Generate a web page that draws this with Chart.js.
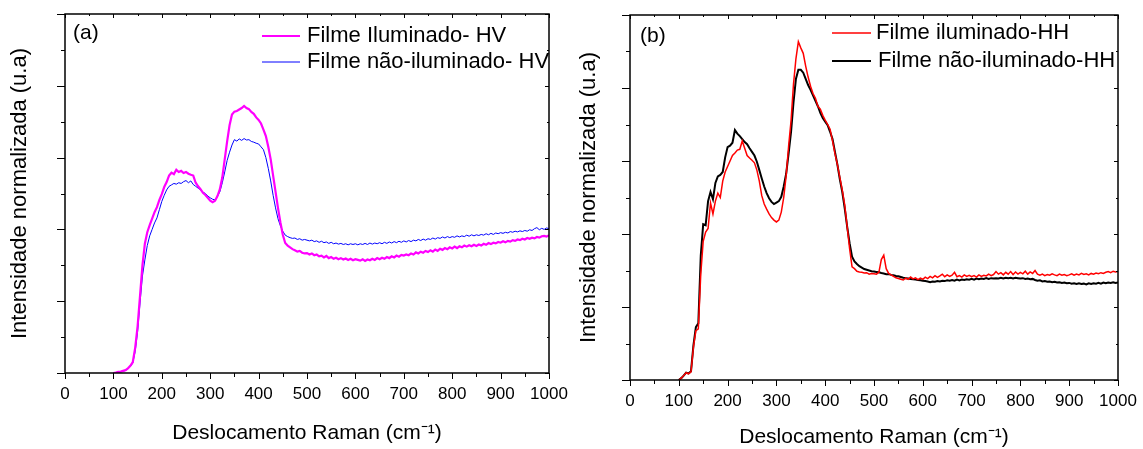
<!DOCTYPE html>
<html>
<head>
<meta charset="utf-8">
<script src="https://cdn.jsdelivr.net/npm/chart.js@4"></script>
<style>
  body { margin: 0; background: #fff; }
  #wrap { position: relative; width: 1143px; height: 449px; }
  canvas { position: absolute; top: 0; }
</style>
</head>
<body>
<div id="wrap">
  <canvas id="chartA" width="570" height="449" style="left:0"></canvas>
  <canvas id="chartB" width="573" height="449" style="left:570px"></canvas>
</div>
<script>
// Raman shift (cm-1) sample positions
const ramanShift = [
  100,105,110,115,120,125,130,135,140,145,
  150,155,160,165,170,175,180,185,190,195,
  200,205,210,215,220,225,230,235,240,245,
  250,255,260,265,270,275,280,285,290,295,
  300,305,310,315,320,325,330,335,340,345,
  350,355,360,365,370,375,380,385,390,395,
  400,405,410,415,420,425,430,435,440,445,
  450,455,460,465,470,475,480,485,490,495,
  500,505,510,515,520,525,530,535,540,545,
  550,555,560,565,570,575,580,585,590,595,
  600,605,610,615,620,625,630,635,640,645,
  650,655,660,665,670,675,680,685,690,695,
  700,705,710,715,720,725,730,735,740,745,
  750,755,760,765,770,775,780,785,790,795,
  800,805,810,815,820,825,830,835,840,845,
  850,855,860,865,870,875,880,885,890,895,
  900,905,910,915,920,925,930,935,940,945,
  950,955,960,965,970,975,980,985,990,995,
  1000
];

// (a) HV
const hvIluminado = [
  0.0,0.01,0.03,0.04,0.06,0.08,0.13,0.2,0.3,0.7,
  1.3,2.15,3.0,3.6,3.92,4.12,4.3,4.48,4.62,4.82,
  4.98,5.18,5.32,5.5,5.58,5.54,5.66,5.6,5.63,5.57,
  5.6,5.55,5.52,5.5,5.3,5.2,5.12,5.02,4.96,4.88,
  4.8,4.76,4.8,4.93,5.12,5.45,5.95,6.45,6.9,7.2,
  7.28,7.3,7.34,7.38,7.44,7.38,7.35,7.27,7.22,7.12,
  7.05,6.95,6.78,6.6,6.3,5.95,5.5,5.05,4.6,4.2,
  3.85,3.62,3.55,3.5,3.45,3.42,3.38,3.4,3.35,3.33,
  3.34,3.3,3.33,3.28,3.3,3.25,3.27,3.22,3.26,3.2,
  3.23,3.18,3.21,3.17,3.2,3.16,3.19,3.15,3.18,3.14,
  3.17,3.15,3.13,3.17,3.12,3.16,3.14,3.18,3.15,3.2,
  3.17,3.21,3.18,3.23,3.2,3.25,3.22,3.27,3.24,3.29,
  3.27,3.3,3.28,3.33,3.3,3.36,3.33,3.38,3.35,3.4,
  3.37,3.42,3.38,3.44,3.4,3.46,3.43,3.48,3.45,3.5,
  3.47,3.52,3.48,3.53,3.5,3.55,3.52,3.56,3.53,3.57,
  3.54,3.58,3.55,3.6,3.57,3.62,3.59,3.63,3.61,3.65,
  3.63,3.67,3.64,3.68,3.66,3.7,3.68,3.72,3.7,3.74,
  3.72,3.76,3.74,3.77,3.75,3.79,3.77,3.81,3.82,3.8,
  3.84
];
const hvNaoIluminado = [
  0.0,0.01,0.02,0.03,0.05,0.07,0.12,0.18,0.28,0.6,
  1.15,1.95,2.7,3.15,3.55,3.82,4.0,4.18,4.32,4.55,
  4.78,4.95,5.1,5.2,5.24,5.28,5.26,5.3,5.28,5.33,
  5.36,5.3,5.35,5.25,5.2,5.15,5.1,5.04,5.0,4.93,
  4.88,4.84,4.82,4.92,5.05,5.3,5.6,5.92,6.15,6.35,
  6.5,6.46,6.52,6.48,6.53,6.49,6.5,6.45,6.43,6.4,
  6.38,6.3,6.22,6.0,5.7,5.35,4.95,4.6,4.3,4.1,
  3.95,3.84,3.8,3.77,3.75,3.76,3.72,3.74,3.7,3.72,
  3.7,3.68,3.7,3.66,3.68,3.64,3.67,3.63,3.65,3.61,
  3.64,3.6,3.62,3.59,3.61,3.58,3.6,3.57,3.6,3.58,
  3.6,3.57,3.6,3.58,3.61,3.58,3.62,3.59,3.62,3.6,
  3.63,3.6,3.64,3.61,3.65,3.62,3.66,3.63,3.67,3.64,
  3.68,3.65,3.69,3.66,3.7,3.68,3.72,3.69,3.73,3.7,
  3.74,3.72,3.76,3.73,3.77,3.75,3.79,3.76,3.8,3.77,
  3.8,3.78,3.82,3.79,3.82,3.8,3.84,3.81,3.85,3.82,
  3.85,3.83,3.86,3.84,3.88,3.85,3.89,3.86,3.9,3.88,
  3.91,3.89,3.92,3.9,3.94,3.92,3.95,3.93,3.96,3.94,
  3.97,3.95,3.99,3.97,4.02,4.05,3.99,4.03,4.0,4.04,
  4.02
];

// (b) HH
const hhIluminado = [
  0.0,0.05,0.12,0.2,0.17,0.22,0.9,1.35,1.4,2.9,
  3.8,4.05,4.15,4.85,4.55,4.9,5.12,5.0,5.45,5.7,
  5.85,6.0,6.15,6.22,6.3,6.32,6.55,6.35,6.15,6.08,
  6.02,5.95,5.75,5.45,5.05,4.82,4.68,4.55,4.45,4.38,
  4.33,4.38,4.6,5.0,5.6,6.4,7.1,8.1,8.8,9.27,
  9.1,8.95,8.6,8.3,8.05,7.85,7.72,7.5,7.42,7.25,
  7.12,7.0,6.87,6.55,6.2,5.9,5.55,5.2,4.8,4.2,
  3.6,3.1,3.05,2.98,2.96,2.95,2.93,2.94,2.9,2.92,
  2.91,2.9,2.95,3.3,3.42,3.05,2.92,2.88,2.84,2.8,
  2.78,2.76,2.74,2.79,2.76,2.82,2.77,2.8,2.75,2.79,
  2.76,2.82,2.78,2.84,2.8,2.86,2.81,2.85,2.9,2.83,
  2.88,2.84,2.87,2.95,2.83,2.86,2.82,2.88,2.84,2.87,
  2.83,2.86,2.82,2.88,2.84,2.87,2.85,2.9,2.86,2.89,
  2.97,2.9,2.94,2.88,2.95,2.9,2.97,2.89,2.96,2.9,
  2.95,2.91,2.98,2.9,2.96,2.92,3.0,2.9,2.87,2.9,
  2.86,2.89,2.87,2.91,2.88,2.86,2.9,2.87,2.89,2.86,
  2.88,2.91,2.87,2.9,2.88,2.92,2.89,2.91,2.88,2.92,
  2.9,2.93,2.91,2.94,2.92,2.95,2.97,2.94,2.98,2.96,
  2.97
];
const hhNaoIluminado = [
  0.0,0.05,0.12,0.2,0.18,0.24,0.95,1.45,1.55,3.4,
  4.27,4.24,4.9,5.15,4.95,5.4,5.58,5.62,5.7,6.1,
  6.38,6.42,6.5,6.85,6.75,6.68,6.6,6.52,6.46,6.35,
  6.25,6.15,5.98,5.75,5.52,5.3,5.12,4.98,4.88,4.82,
  4.86,4.9,5.02,5.3,5.65,6.2,6.8,7.6,8.25,8.5,
  8.5,8.42,8.25,8.08,7.95,7.8,7.65,7.5,7.32,7.18,
  7.08,6.98,6.8,6.6,6.25,5.9,5.5,5.15,4.7,4.2,
  3.75,3.38,3.25,3.18,3.12,3.08,3.04,3.02,3.0,2.98,
  2.97,2.96,2.95,2.93,2.92,2.9,2.9,2.88,2.87,2.85,
  2.84,2.82,2.8,2.79,2.78,2.77,2.76,2.75,2.74,2.73,
  2.72,2.71,2.7,2.68,2.7,2.69,2.71,2.7,2.72,2.71,
  2.73,2.72,2.74,2.72,2.75,2.73,2.75,2.74,2.76,2.75,
  2.77,2.75,2.78,2.76,2.78,2.77,2.79,2.77,2.79,2.78,
  2.79,2.78,2.8,2.78,2.8,2.79,2.8,2.78,2.8,2.79,
  2.78,2.79,2.77,2.78,2.76,2.77,2.74,2.72,2.73,2.7,
  2.71,2.69,2.7,2.68,2.69,2.67,2.68,2.66,2.67,2.65,
  2.66,2.64,2.65,2.63,2.65,2.63,2.64,2.62,2.65,2.63,
  2.65,2.64,2.66,2.64,2.67,2.65,2.67,2.66,2.68,2.66,
  2.67
];

const xMinorTicks = [0,50,100,150,200,250,300,350,400,450,500,550,600,650,700,750,800,850,900,950,1000];
const yMinorTicks = [0,1,2,3,4,5,6,7,8,9,10];

const FONT = "'Liberation Sans', Arial, sans-serif";

function toPoints(ys) {
  return ramanShift.map((x, i) => ({ x: x, y: ys[i] }));
}

// frame with mirrored ticks, panel label and legend
const frameAndLegend = {
  id: 'frameAndLegend',
  afterDatasetsDraw(chart, args, opts) {
    const ctx = chart.ctx;
    const a = chart.chartArea;
    const xs = chart.scales.x, ys = chart.scales.y;
    ctx.save();
    ctx.strokeStyle = '#000';
    ctx.lineWidth = 1.5;
    ctx.strokeRect(a.left, a.top, a.right - a.left, a.bottom - a.top);
    ctx.lineWidth = 1;
    ctx.beginPath();
    xMinorTicks.forEach(v => {
      const px = Math.round(xs.getPixelForValue(v)) + 0.5;
      const major = v % 100 === 0;
      ctx.moveTo(px, a.bottom); ctx.lineTo(px, a.bottom + (major ? 6 : 4));
      ctx.moveTo(px, a.top); ctx.lineTo(px, a.top + (major ? 4 : 2));
    });
    yMinorTicks.forEach(v => {
      const py = Math.round(ys.getPixelForValue(v)) + 0.5;
      const major = v % 2 === 0;
      ctx.moveTo(a.left, py); ctx.lineTo(a.left - (major ? 8 : 4), py);
      ctx.moveTo(a.right, py); ctx.lineTo(a.right - (major ? 4 : 2), py);
    });
    ctx.stroke();

    ctx.fillStyle = '#000';
    ctx.font = '21px ' + FONT;
    ctx.textBaseline = 'middle';
    ctx.textAlign = 'left';
    ctx.fillText(opts.panel, opts.panelX, opts.panelY);

    ctx.font = '22px ' + FONT;
    chart.data.datasets.forEach((ds, i) => {
      const y = opts.legendY[i];
      ctx.strokeStyle = ds.borderColor;
      ctx.lineWidth = ds.borderWidth;
      ctx.beginPath();
      ctx.moveTo(opts.lineX[0], y);
      ctx.lineTo(opts.lineX[1], y);
      ctx.stroke();
      ctx.fillText(ds.label, opts.textX[i], y);
    });
    ctx.restore();
  }
};

function makePanel(id, cfg) {
  new Chart(document.getElementById(id), {
    type: 'line',
    data: {
      datasets: cfg.series.map(s => ({
        label: s.label,
        data: toPoints(s.values),
        borderColor: s.color,
        borderWidth: s.width,
        pointRadius: 0,
        tension: 0,
        fill: false
      }))
    },
    options: {
      responsive: false,
      devicePixelRatio: 1,
      animation: false,
      layout: { padding: { left: 0, top: cfg.top, right: cfg.right, bottom: 0 } },
      plugins: {
        legend: { display: false },
        tooltip: { enabled: false },
        frameAndLegend: cfg.legend
      },
      scales: {
        x: {
          type: 'linear',
          min: 0, max: 1000,
          grid: { display: false, drawTicks: false },
          border: { display: false },
          ticks: { stepSize: 100, color: '#000', padding: cfg.tickPad, maxRotation: 0,
                   callback: v => String(v),
                   font: { family: FONT, size: 17 } },
          title: { display: true, text: 'Deslocamento Raman (cm\u207B\u00B9)', color: '#000',
                   font: { family: FONT, size: 21, lineHeight: 1 },
                   padding: { top: 0, bottom: cfg.xTitlePad } },
          afterFit: s => { s.height = cfg.xHeight; s.paddingLeft = 0; s.paddingRight = 0; }
        },
        y: {
          min: 0, max: 10,
          grid: { display: false, drawTicks: false },
          border: { display: false },
          ticks: { display: false },
          title: { display: true, text: 'Intensidade normalizada (u.a)', color: '#000',
                   font: { family: FONT, size: 22, lineHeight: 1 },
                   padding: { top: cfg.yTitlePad, bottom: 0 } },
          afterFit: s => { s.width = cfg.yWidth; s.paddingTop = 0; s.paddingBottom = 0; }
        }
      }
    },
    plugins: [frameAndLegend]
  });
}

makePanel('chartA', {
  top: 14, right: 21, yWidth: 65, xHeight: 76, tickPad: 11, xTitlePad: 5, yTitlePad: 9,
  series: [
    { label: 'Filme Iluminado- HV', values: hvIluminado, color: '#ff00ff', width: 2.2 },
    { label: 'Filme não-iluminado- HV', values: hvNaoIluminado, color: '#0000ff', width: 1 }
  ],
  legend: { panel: '(a)', panelX: 73, panelY: 33, lineX: [262, 300], legendY: [36, 62], textX: [307, 307] }
});

makePanel('chartB', {
  top: 15, right: 25, yWidth: 60, xHeight: 69, tickPad: 11, xTitlePad: 1, yTitlePad: 8,
  series: [
    { label: 'Filme iluminado-HH', values: hhIluminado, color: '#ff0000', width: 1.5 },
    { label: 'Filme não-iluminado-HH', values: hhNaoIluminado, color: '#000000', width: 2 }
  ],
  legend: { panel: '(b)', panelX: 70, panelY: 36, lineX: [262, 301], legendY: [33, 61], textX: [306, 308] }
});
</script>
</body>
</html>
